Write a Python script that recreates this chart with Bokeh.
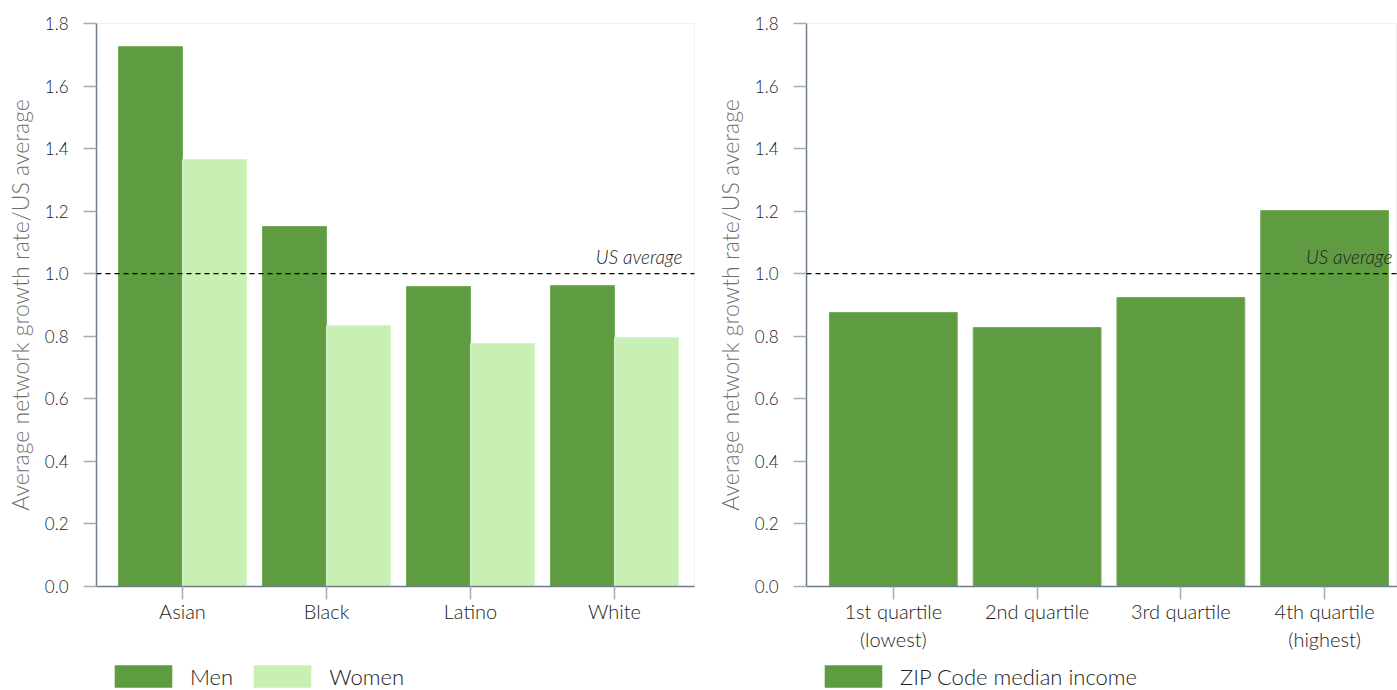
from bokeh.plotting import figure
from bokeh.layouts import row, column
from bokeh.models import (Range1d, FixedTicker, Span, Label, Legend, LegendItem,
                          PrintfTickFormatter, ColumnDataSource)
from bokeh.transform import dodge
from bokeh.embed import file_html
from bokeh.resources import INLINE

# --- data -----------------------------------------------------------------
groups = ["Asian", "Black", "Latino", "White"]
men = [1.726, 1.151, 0.959, 0.962]
women = [1.365, 0.834, 0.777, 0.796]

quartiles = ["1st quartile\n(lowest)", "2nd quartile", "3rd quartile", "4th quartile\n(highest)"]
zip_income = [0.876, 0.828, 0.924, 1.202]

us_average = 1.0
y_ticks = [0.0, 0.2, 0.4, 0.6, 0.8, 1.0, 1.2, 1.4, 1.6, 1.8]

# --- style ----------------------------------------------------------------
FONT = "'Lato Light', Lato"
DARK_GREEN = "#5f9b41"
LIGHT_GREEN = "#c8f0b4"
AXIS_COLOR = "#6e7d8c"
TICK_COLOR = "#a3adb8"
TEXT_COLOR = "#222222"
Y_LABEL = "Average network growth rate/US average"

PLOT_H = 656
LEGEND_H = 690 - PLOT_H


def style_axes(p):
    p.grid.visible = False
    p.outline_line_color = "#f0f0f0"
    for ax in (p.xaxis[0], p.yaxis[0]):
        ax.axis_line_color = AXIS_COLOR
        ax.axis_line_width = 1.5
        ax.major_tick_line_color = TICK_COLOR
        ax.major_tick_line_width = 1.5
        ax.major_tick_out = 13
        ax.major_tick_in = 0
        ax.minor_tick_line_color = None
        ax.major_label_text_font = FONT
        ax.major_label_text_color = TEXT_COLOR
    p.yaxis.ticker = FixedTicker(ticks=y_ticks)
    p.yaxis.formatter = PrintfTickFormatter(format="%.1f")
    p.yaxis.major_label_text_font_size = "17px"
    p.yaxis.major_label_standoff = 15
    p.yaxis.axis_label = Y_LABEL
    p.yaxis.axis_label_text_font = FONT
    p.yaxis.axis_label_text_font_size = "23px"
    p.yaxis.axis_label_text_font_style = "normal"
    p.yaxis.axis_label_text_color = "#707070"
    p.yaxis.axis_label_standoff = 8
    p.xaxis.major_label_text_font_size = "20px"
    p.xaxis.major_label_standoff = -1


def add_reference(p, x_label):
    p.add_layout(Span(location=us_average, dimension="width", line_color="black",
                      line_width=1.3, line_dash="5 4"))
    p.add_layout(Label(x=x_label, y=us_average, text="US average", text_align="right",
                       text_baseline="bottom", y_offset=6, text_font=FONT,
                       text_font_size="19px", text_font_style="italic",
                       text_color=TEXT_COLOR))


def legend_strip(width, entries, x):
    """A thin figure under a panel that carries only that panel's legend.

    Each entry is (label, source, column, colour); the proxy bars are hidden and
    only lend their fill to the legend swatch."""
    f = figure(width=width, height=LEGEND_H, x_range=Range1d(0, 1), y_range=Range1d(0, 1),
               output_backend="svg", toolbar_location=None, min_border=0,
               x_axis_location=None, y_axis_location=None, outline_line_color=None)
    f.grid.visible = False
    items = []
    for label, src, col, color in entries:
        r = f.vbar(x="x", top=col, width=0.1, source=src, fill_color=color,
                   line_color=None, visible=False)
        items.append(LegendItem(label=label, renderers=[r]))
    f.add_layout(Legend(items=items, location=(x, 0), orientation="horizontal",
                        glyph_width=72, glyph_height=28, label_standoff=11, spacing=13,
                        padding=0, margin=0, border_line_color=None,
                        background_fill_alpha=0, label_text_font=FONT,
                        label_text_font_size="22px", label_text_color=TEXT_COLOR))
    return f


# --- left panel: by race and gender -----------------------------------------
pos = list(range(len(groups)))
src1 = ColumnDataSource(dict(x=pos, men=men, women=women))

p1 = figure(width=700, height=PLOT_H, x_range=Range1d(-0.597, 3.556),
            y_range=Range1d(0, 1.8), output_backend="svg", toolbar_location=None,
            min_border_left=96, min_border_right=6, min_border_top=23,
            min_border_bottom=PLOT_H - 586)
p1.vbar(x=dodge("x", -0.222), top="men", width=0.444, source=src1,
        fill_color=DARK_GREEN, line_color="#74ad58", line_width=1)
p1.vbar(x=dodge("x", 0.222), top="women", width=0.444, source=src1,
        fill_color=LIGHT_GREEN, line_color="#d4f5c3", line_width=1)
style_axes(p1)
p1.xaxis.ticker = FixedTicker(ticks=pos)
p1.xaxis.major_label_overrides = {i: g for i, g in enumerate(groups)}
add_reference(p1, 3.472)

# --- right panel: by ZIP code median income ---------------------------------
pos2 = list(range(len(quartiles)))
src2 = ColumnDataSource(dict(x=pos2, v=zip_income))

p2 = figure(width=697, height=PLOT_H, x_range=Range1d(-0.604, 3.507),
            y_range=Range1d(0, 1.8), output_backend="svg", toolbar_location=None,
            min_border_left=106, min_border_right=0, min_border_top=23,
            min_border_bottom=PLOT_H - 586)
p2.vbar(x="x", top="v", width=0.889, source=src2,
        fill_color=DARK_GREEN, line_color="#74ad58", line_width=1)
style_axes(p2)
p2.xaxis.ticker = FixedTicker(ticks=pos2)
p2.xaxis.major_label_overrides = {i: q for i, q in enumerate(quartiles)}
add_reference(p2, 3.472)

leg1 = legend_strip(700, [("Men", src1, "men", DARK_GREEN),
                          ("Women", src1, "women", LIGHT_GREEN)], 107)
leg2 = legend_strip(697, [("ZIP Code median income", src2, "v", DARK_GREEN)], 117)

layout = column(row(p1, p2), row(leg1, leg2))
open("out.html", "w").write(file_html(layout, INLINE))
